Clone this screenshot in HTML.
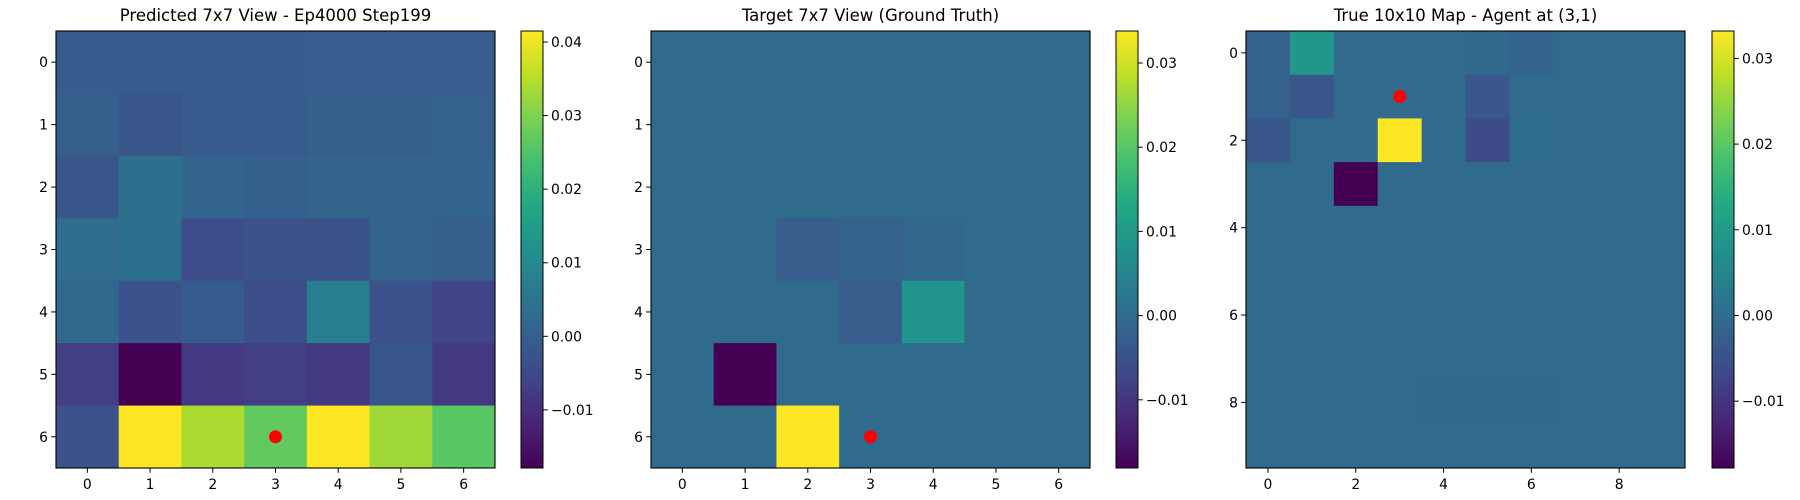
<!DOCTYPE html>
<html><head><meta charset="utf-8"><style>
html,body{margin:0;padding:0;background:#fff;width:1800px;height:500px;overflow:hidden}
svg text{font-family:"DejaVu Sans","Liberation Sans",sans-serif;fill:#000}
</style></head><body>
<svg id="fig" width="1800" height="500" xmlns="http://www.w3.org/2000/svg">
<defs>
<linearGradient id="viridis" x1="0" y1="1" x2="0" y2="0">
<stop offset="0" stop-color="#440154"/><stop offset="0.1" stop-color="#482475"/><stop offset="0.2" stop-color="#414487"/><stop offset="0.3" stop-color="#355f8d"/><stop offset="0.4" stop-color="#2a788e"/><stop offset="0.5" stop-color="#21918c"/><stop offset="0.6" stop-color="#22a884"/><stop offset="0.7" stop-color="#44bf70"/><stop offset="0.8" stop-color="#7ad151"/><stop offset="0.9" stop-color="#bddf26"/><stop offset="1" stop-color="#fde725"/>
</linearGradient>
</defs>
</svg>
<script>
// Panel 1: predicted 7x7
const predTitle = "Predicted 7x7 View - Ep4000 Step199";
const predValues = [
 [-0.001,-0.001,-0.001,-0.001,-0.0005,-0.0005,-0.0005],
 [0.000,-0.002,-0.001,-0.001,0.000,0.000,0.0005],
 [-0.002,0.004,0.001,0.000,0.001,0.001,0.001],
 [0.003,0.004,-0.004,-0.003,-0.003,0.001,0.000],
 [0.002,-0.003,-0.001,-0.004,0.007,-0.003,-0.006],
 [-0.007,-0.0179,-0.008,-0.007,-0.008,-0.002,-0.008],
 [-0.003,0.0415,0.034,0.027,0.0415,0.033,0.026]
];
const predRange = [-0.0179, 0.0415];
const predAgent = [3, 6];
const predXTicks = [0,1,2,3,4,5,6];
const predCbTicks = [-0.01,0.00,0.01,0.02,0.03,0.04];
const predCbLabels = ["\u22120.01","0.00","0.01","0.02","0.03","0.04"];

// Panel 2: target 7x7
const targTitle = "Target 7x7 View (Ground Truth)";
const targValues = [
 [0,0,0,0,0,0,0],
 [0,0,0,0,0,0,0],
 [0,0,0,0,0,0,0],
 [0,0,-0.003,-0.002,-0.001,0,0],
 [0,0,0,-0.003,0.0085,0,0],
 [0,-0.0181,0,0,0,0,0],
 [0,0,0.0338,0,0,0,0]
];
const targRange = [-0.0181, 0.0338];
const targAgent = [3, 6];
const targXTicks = [0,1,2,3,4,5,6];
const targCbTicks = [-0.01,0.00,0.01,0.02,0.03];
const targCbLabels = ["\u22120.01","0.00","0.01","0.02","0.03"];

// Panel 3: true 10x10 map
const mapTitle = "True 10x10 Map - Agent at (3,1)";
const mapValues = [
 [-0.002,0.009,0,0,0,-0.0005,-0.0015,0,0,0],
 [-0.002,-0.004,0,0,0,-0.004,0,0,0,0],
 [-0.004,0,0,0.0332,0,-0.006,0.0003,0,0,0],
 [0,0,-0.0178,0,0,0,0,0,0,0],
 [0,0,0,0,0,0,0,0,0,0],
 [0,0,0,0,0,0,0,0,0,0],
 [0,0,0,0,0,0,0,0,0,0],
 [0,0,0,0,0,-0.0003,-0.0003,0,0,0],
 [0,0,0,0,-0.0005,-0.0005,-0.0005,0,0,0],
 [0,0,0,0,0,0,0,0,0,0]
];
const mapRange = [-0.0178, 0.0332];
const mapAgent = [3, 1];
const mapXTicks = [0,2,4,6,8];
const mapCbTicks = [-0.01,0.00,0.01,0.02,0.03];
const mapCbLabels = ["\u22120.01","0.00","0.01","0.02","0.03"];

const VIR = ["#440154","#482475","#414487","#355f8d","#2a788e","#21918c","#22a884","#44bf70","#7ad151","#bddf26","#fde725"];
function hex(c){return [parseInt(c.slice(1,3),16),parseInt(c.slice(3,5),16),parseInt(c.slice(5,7),16)];}
function viridis(t){
  t=Math.max(0,Math.min(1,t));
  const p=t*10, i=Math.min(9,Math.floor(p)), f=p-i;
  const a=hex(VIR[i]), b=hex(VIR[i+1]);
  return "rgb("+a.map((v,k)=>Math.round(v+(b[k]-v)*f)).join(",")+")";
}
const NS="http://www.w3.org/2000/svg";
const svg=document.getElementById("fig");
function mk(tag,attrs,parent){
  const e=document.createElementNS(NS,tag);
  for(const k in attrs)e.setAttribute(k,attrs[k]);
  (parent||svg).appendChild(e);return e;
}

function panel(id,title,values,range,agent,xticks,cbTicks,cbLabels,ax,cb){
  const g=mk("g",{});
  
  
  const n=values.length;
  const cw=(ax.x1-ax.x0)/n, ch=(ax.y1-ax.y0)/n;
  const xs=c=>ax.x0+(c+0.5)*cw, ys=r=>ax.y0+(r+0.5)*ch;
  const norm=v=>(v-range[0])/(range[1]-range[0]);
  values.forEach((row,r)=>row.forEach((v,c)=>{
    const rc=mk("rect",{x:ax.x0+c*cw,y:ax.y0+r*ch,width:cw+0.5,height:ch+0.5,fill:viridis(norm(v))},g);
    
    
  }));
  const dot=mk("circle",{cx:xs(agent[0]),cy:ys(agent[1]),r:6.5,fill:"#ff0000"},g);
  
  
  const fr=mk("rect",{x:ax.x0,y:ax.y0,width:ax.x1-ax.x0,height:ax.y1-ax.y0,fill:"none",stroke:"#000","stroke-width":1.1},g);
  
  
  const t=mk("text",{x:(ax.x0+ax.x1)/2,y:21,"text-anchor":"middle","font-size":"16.5px"},g);
  t.textContent=title;
  
  
  xticks.forEach(v=>{
    mk("line",{x1:xs(v),x2:xs(v),y1:ax.y1,y2:ax.y1+4.8,stroke:"#000","stroke-width":1},g);
    const tx=mk("text",{x:xs(v),y:ax.y1+21,"text-anchor":"middle","font-size":"13.9px"},g);
    tx.textContent=v;
    
    
    mk("line",{x1:ax.x0,x2:ax.x0-4.8,y1:ys(v),y2:ys(v),stroke:"#000","stroke-width":1},g);
    const ty=mk("text",{x:ax.x0-8,y:ys(v)+5,"text-anchor":"end","font-size":"13.9px"},g);
    ty.textContent=v;
    
    
  });
  const bar=mk("rect",{x:cb.x0,y:ax.y0,width:cb.x1-cb.x0,height:ax.y1-ax.y0,fill:"url(#viridis)",stroke:"#000","stroke-width":1},g);
  
  
  const cy=v=>ax.y1-norm(v)*(ax.y1-ax.y0);
  cbTicks.forEach((v,i)=>{
    mk("line",{x1:cb.x1,x2:cb.x1+4.8,y1:cy(v),y2:cy(v),stroke:"#000","stroke-width":1},g);
    const tl=mk("text",{x:cb.x1+8,y:cy(v)+5,"font-size":"13.9px"},g);
    tl.textContent=cbLabels[i];
    
    
  });
}
panel("predicted",predTitle,predValues,predRange,predAgent,predXTicks,predCbTicks,predCbLabels,{x0:56,x1:495,y0:31,y1:468},{x0:521,x1:543});
panel("target",targTitle,targValues,targRange,targAgent,targXTicks,targCbTicks,targCbLabels,{x0:651,x1:1090,y0:31,y1:468},{x0:1116,x1:1138});
panel("true-map",mapTitle,mapValues,mapRange,mapAgent,mapXTicks,mapCbTicks,mapCbLabels,{x0:1246,x1:1685,y0:31,y1:468},{x0:1712,x1:1734});
</script>
</body></html>
